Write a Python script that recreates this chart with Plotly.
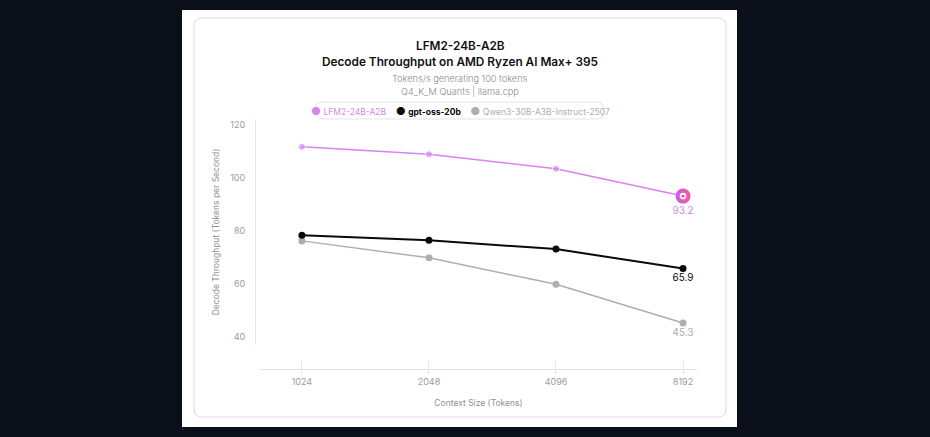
import plotly.graph_objects as go

# ---------------- data ----------------
context_labels = ["1024", "2048", "4096", "8192"]
lfm_values = [111.8, 109.0, 103.5, 93.2]
gpt_values = [78.4, 76.5, 73.2, 65.9]
qwen_values = [76.3, 69.9, 59.9, 45.3]
series_names = ["LFM2-24B-A2B", "gpt-oss-20b", "Qwen3-30B-A3B-Instruct-2507"]
y_ticks = [40, 60, 80, 100, 120]

# ---------------- style ----------------
W, H = 930, 437
BG = "#0b0f1a"
PINK = "#d884ee"
PINK_TXT = "#d58ae8"
BLACK = "#0a0a0a"
GRAY = "#aeaeae"
AXIS = "#e3e3e3"
TICKTXT = "#9c9c9c"
FONT = "Inter"

def px_x(v):
    return v / W

def px_y(v):
    return 1 - v / H

def rounded_rect(x0, y0, x1, y1, r):
    X = lambda v: px_x(v)
    Y = lambda v: px_y(v)
    rx, ry = r / W, r / H
    return (
        f"M {X(x0)+rx},{Y(y0)} L {X(x1)-rx},{Y(y0)} Q {X(x1)},{Y(y0)} {X(x1)},{Y(y0)-ry} "
        f"L {X(x1)},{Y(y1)+ry} Q {X(x1)},{Y(y1)} {X(x1)-rx},{Y(y1)} "
        f"L {X(x0)+rx},{Y(y1)} Q {X(x0)},{Y(y1)} {X(x0)},{Y(y1)+ry} "
        f"L {X(x0)},{Y(y0)-ry} Q {X(x0)},{Y(y0)} {X(x0)+rx},{Y(y0)} Z"
    )

xs = list(range(len(context_labels)))

def last_only(vals):
    return [""] * (len(vals) - 1) + [f"{vals[-1]:.1f}"]

fig = go.Figure()

# Qwen
fig.add_trace(go.Scatter(
    x=xs, y=qwen_values, mode="lines+markers+text", showlegend=False,
    line=dict(color=GRAY, width=1.5), marker=dict(color=GRAY, size=7),
    text=last_only(qwen_values), textposition="bottom center",
    textfont=dict(color=GRAY, size=10, family=FONT),
))
# gpt-oss
fig.add_trace(go.Scatter(
    x=xs, y=gpt_values, mode="lines+markers+text", showlegend=False,
    line=dict(color=BLACK, width=2), marker=dict(color=BLACK, size=7),
    text=last_only(gpt_values), textposition="bottom center",
    textfont=dict(color=BLACK, size=10, family=FONT),
))
# LFM
n = len(lfm_values)
fig.add_trace(go.Scatter(
    x=xs, y=lfm_values, mode="lines+markers+text", showlegend=False,
    line=dict(color=PINK, width=1.5),
    marker=dict(color=PINK, size=[7] * (n - 1) + [15]),
    text=last_only(lfm_values), textposition="bottom center",
    textfont=dict(color=PINK_TXT, size=10, family=FONT),
))
# highlighted final point (gradient badge)
fig.add_trace(go.Scatter(
    x=[xs[-1]], y=[lfm_values[-1]], mode="markers", showlegend=False, hoverinfo="skip",
    marker=dict(symbol="circle", color="#c95cf0", size=15, line=dict(width=0),
                gradient=dict(type="horizontal", color="#fb5a8a")),
))
# logo glyph on the highlighted point
fig.add_trace(go.Scatter(
    x=[xs[-1]], y=[lfm_values[-1]], mode="markers", showlegend=False, hoverinfo="skip",
    marker=dict(symbol="circle-open", color="white", size=5, line=dict(width=1.6, color="white")),
))

# hidden overlay trace for inside ticks axis
fig.add_trace(go.Scatter(x=[None], y=[None], xaxis="x2", showlegend=False, hoverinfo="skip"))

shapes = [
    dict(type="rect", xref="paper", yref="paper", layer="below",
         x0=px_x(182), x1=px_x(737), y0=px_y(427), y1=px_y(10),
         fillcolor="white", line=dict(width=0)),
    dict(type="path", xref="paper", yref="paper", layer="below",
         path=rounded_rect(194, 18, 726, 417, 8),
         fillcolor="white", line=dict(color="#ecd6f3", width=1.2)),
    dict(type="path", xref="paper", yref="paper", layer="below",
         path=rounded_rect(315, 102, 604, 119, 8),
         fillcolor="white", line=dict(color="#e4e4e4", width=1)),
]

dot = "<span style='color:{c};font-size:11px'>●</span>"
legend_text = (
    dot.format(c=PINK) + f" <span style='color:{PINK_TXT}'>{series_names[0]}</span>"
    + "    " + dot.format(c=BLACK) + f" <b><span style='color:{BLACK}'>{series_names[1]}</span></b>"
    + "    " + dot.format(c=GRAY) + f" <span style='color:{GRAY}'>{series_names[2]}</span>"
)

def ann(text, ypx, size, color, weight=None):
    f = dict(size=size, color=color, family=FONT)
    if weight:
        f["weight"] = weight
    return dict(text=text, x=px_x(460), y=px_y(ypx), xref="paper", yref="paper",
                xanchor="center", yanchor="middle", showarrow=False, font=f)

annotations = [
    ann("LFM2-24B-A2B", 45.5, 11.8, "#111111", 600),
    ann("Decode Throughput on AMD Ryzen AI Max+ 395", 62, 11.8, "#111111", 600),
    ann("Tokens/s generating 100 tokens", 79, 9.2, "#8a8a8a", 300),
    ann("Q4_K_M Quants | llama.cpp", 91, 9.2, "#8a8a8a", 300),
    ann(legend_text, 110.5, 8.5, GRAY),
]

x_range = [-0.33, 3.11]
fig.update_layout(
    width=W, height=H,
    paper_bgcolor=BG, plot_bgcolor="rgba(0,0,0,0)",
    margin=dict(l=0, r=0, t=0, b=0),
    font=dict(family=FONT, color=TICKTXT),
    shapes=shapes, annotations=annotations,
    showlegend=False,
    xaxis=dict(
        domain=[px_x(260), px_x(697)], anchor="free", position=px_y(369),
        range=x_range, tickmode="array", tickvals=xs, ticktext=context_labels,
        showgrid=False, zeroline=False, showline=True, linecolor=AXIS, linewidth=1,
        ticks="outside", ticklen=4, tickcolor=AXIS, tickwidth=1,
        tickfont=dict(size=9, color=TICKTXT, family=FONT),
        title=dict(text="Context Size (Tokens)", standoff=14,
                   font=dict(size=8.5, color="#8f8f8f", family=FONT)),
        automargin=False, fixedrange=True,
    ),
    xaxis2=dict(
        domain=[px_x(260), px_x(697)], anchor="free", position=px_y(369), overlaying="x",
        range=x_range, tickmode="array", tickvals=xs, showticklabels=False,
        showgrid=False, zeroline=False, showline=False,
        ticks="inside", ticklen=8, tickcolor=AXIS, tickwidth=1, automargin=False,
    ),
    yaxis=dict(
        domain=[px_y(345), px_y(119)], anchor="free", position=px_x(255),
        range=[37, 122.3], tickmode="array", tickvals=y_ticks,
        showgrid=False, zeroline=False, showline=True, linecolor=AXIS, linewidth=1,
        ticks="", ticklabelstandoff=8,
        tickfont=dict(size=9, color=TICKTXT, family=FONT),
        title=dict(text="Decode Throughput (Tokens per Second)", standoff=8,
                   font=dict(size=8.5, color="#8f8f8f", family=FONT)),
        automargin=False, fixedrange=True,
    ),
)

fig.write_html("out.html", config={"displayModeBar": False},
               post_script="document.body.style.margin='0';")
